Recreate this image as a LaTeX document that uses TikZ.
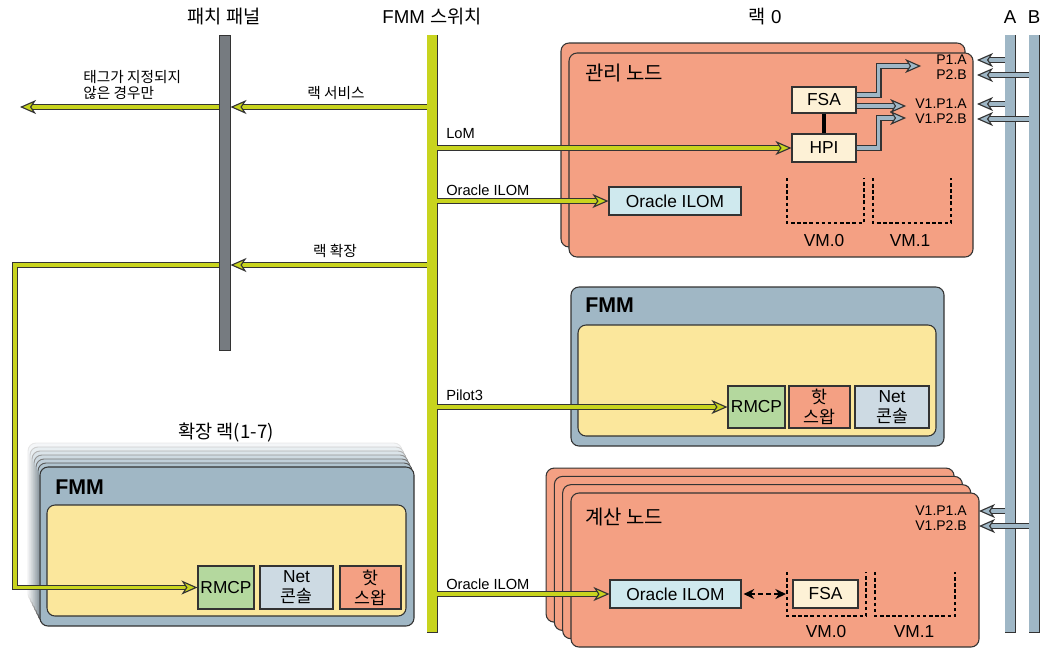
\documentclass[tikz,border=0pt]{standalone}
\usepackage{fontspec}
\setmainfont{Liberation Sans}
\newfontfamily\kr{Noto Sans CJK KR}
\usetikzlibrary{arrows.meta,calc}
\definecolor{salmon}{HTML}{F4A083}
\definecolor{fmmblue}{HTML}{A0B7C5}
\definecolor{inyel}{HTML}{FBE79C}
\definecolor{rmcpg}{HTML}{B4D89E}
\definecolor{netc}{HTML}{CDDAE3}
\definecolor{ilomc}{HTML}{CFE9EE}
\definecolor{cream}{HTML}{FDF1D6}
\definecolor{ylw}{HTML}{C8D41E}
\definecolor{ppgray}{HTML}{767B80}
\definecolor{barb}{HTML}{9FB7C6}
\definecolor{dk}{HTML}{333333}
\tikzset{
  sz/.style 2 args={minimum width=#1*0.75pt, minimum height=#2*0.75pt},
  card/.style={draw=dk, line width=0.8pt, rounded corners=6pt, fill=salmon, inner sep=0pt},
  fmmcard/.style={draw=dk, line width=0.8pt, rounded corners=6pt, fill=fmmblue, inner sep=0pt},
  inner/.style={draw=dk, line width=0.8pt, rounded corners=6pt, fill=inyel, inner sep=0pt},
  box/.style={draw=dk, line width=0.8pt, inner sep=0pt, align=center, font=\fontsize{13}{15}\selectfont},
  bus/.style={draw=dk, line width=0.7pt, inner sep=0pt},
  ylink/.style={draw=dk, line width=0.85pt, double=ylw, double distance=2.6pt},
  blink/.style={draw=dk, line width=0.85pt, double=barb, double distance=2.8pt},
  ytip/.tip={Stealth[length=12pt,width=10.5pt,inset=3.5pt,fill=ylw,line width=0.85pt]},
  btip/.tip={Stealth[length=12pt,width=10.5pt,inset=3.5pt,fill=barb,line width=0.85pt]},
  vmbox/.style={draw=black, line width=1.5pt, dash pattern=on 2.6pt off 2pt},
  lbl/.style={font=\fontsize{11}{12}\selectfont, inner sep=0pt},
  klbl/.style={font=\kr\fontsize{11}{12}\selectfont, inner sep=0pt},
  port/.style={font=\fontsize{10.5}{12}\selectfont, inner sep=0pt, anchor=east},
  title/.style={font=\fontsize{14}{16}\selectfont, inner sep=0pt},
  head/.style={font=\kr\fontsize{15}{17}\selectfont, inner sep=0pt, anchor=west},
  fmmhead/.style={font=\bfseries\fontsize{16}{18}\selectfont, inner sep=0pt, anchor=west},
  vmlbl/.style={font=\fontsize{13}{15}\selectfont, inner sep=0pt},
}
\begin{document}
\begin{tikzpicture}[x=0.75pt,y=-0.75pt]
\useasboundingbox (0,0) rectangle (1048,654);

% titles
\node[title] (tpp) at (224,17) {\kr 패치 패널};
\node[title] (tsw) at (432,17) {FMM {\kr 스위치}};
\node[title] (track) at (765,17) {{\kr 랙} 0};
\node[title] (ta) at (1010,17) {A};
\node[title] (tb) at (1034,17) {B};

% ---------- management node ----------
\node[card, sz={404}{204}] (mgmtb) at (763,145) {};
\node[card, sz={404}{204}] (mgmt) at (771,155) {};
\node[head] (mgmtt) at (585,73) {관리 노드};
\node[box, fill=cream, sz={64}{26}] (fsa) at (824,100) {FSA};
\node[box, fill=cream, sz={64}{28}] (hpi) at (824,148) {HPI};
\draw[line width=3pt] (fsa.south) -- (hpi.north);
\node[box, fill=ilomc, sz={132}{28}] (ilom1) at (675,201) {Oracle ILOM};
\coordinate (vm0a) at (787,178); \coordinate (vm0b) at (864,223);
\coordinate (vm1a) at (873,178); \coordinate (vm1b) at (951,223);
\draw[vmbox] (vm0a) -- (vm0a |- vm0b) -- (vm0b) -- (vm0b |- vm0a);
\draw[vmbox] (vm1a) -- (vm1a |- vm1b) -- (vm1b) -- (vm1b |- vm1a);
\node[vmlbl] (vm0l) at (824,241) {VM.0};
\node[vmlbl] (vm1l) at (910,241) {VM.1};
\node[port] (p1a) at (967,60) {P1.A};
\node[port] (p2b) at (967,75) {P2.B};
\node[port] (v1a) at (967,104) {V1.P1.A};
\node[port] (v2b) at (967,119) {V1.P2.B};
\draw[blink,-{btip}] ($(fsa.east)+(0,-5)$) -- ++(22,0) |- ($(p1a.west)+(-15,6)$);
\draw[blink,-{btip}] ($(fsa.east)+(0,6)$) -- ($(v1a.west)+(-9,2)$);
\draw[blink,-{btip}] (hpi.east) -- ++(22,0) |- ($(v2b.west)+(-9,-1)$);

% ---------- FMM (rack 0) ----------
\node[fmmcard, sz={373}{159}] (fmm) at (757.5,366.5) {};
\node[fmmhead] (fmmt) at (585,305) {FMM};
\node[inner, sz={358}{111}] (fmmin) at (757,380.5) {};
\node[box, fill=rmcpg, sz={57}{42}] (rmcp2) at (756.5,407) {RMCP};
\node[box, fill=salmon, sz={61}{42}] (hot2) at (819.5,407) {\kr 핫\\\kr 스왑};
\node[box, fill=netc, sz={74}{42}] (net2) at (892,407) {Net\\\kr 콘솔};

% ---------- compute nodes ----------
\foreach \i in {3,2,1}{
  \node[card, sz={408}{154}] (cn\i) at ($(775,570)+(-8.3*\i,-8.3*\i)$) {};
}
\node[card, sz={408}{154}] (cn) at (775,570) {};
\node[head] (cnt) at (585,517) {계산 노드};
\node[port] (cv1a) at (967,511) {V1.P1.A};
\node[port] (cv2b) at (967,526) {V1.P2.B};
\node[box, fill=ilomc, sz={131}{28}] (ilom2) at (675.5,594) {Oracle ILOM};
\node[box, fill=cream, sz={65}{28}] (fsa2) at (825.5,594) {FSA};
\coordinate (cvm0a) at (787,572); \coordinate (cvm0b) at (866,616);
\coordinate (cvm1a) at (875,572); \coordinate (cvm1b) at (955,616);
\draw[vmbox] (cvm0a) -- (cvm0a |- cvm0b) -- (cvm0b) -- (cvm0b |- cvm0a);
\draw[vmbox] (cvm1a) -- (cvm1a |- cvm1b) -- (cvm1b) -- (cvm1b |- cvm1a);
\coordinate (cvm0w) at (786,594);
\node[vmlbl] (cvm0l) at (826,632) {VM.0};
\node[vmlbl] (cvm1l) at (914,632) {VM.1};
\draw[line width=1.5pt, dash pattern=on 3.5pt off 2.5pt, {Stealth[length=8pt,width=7.5pt]}-{Stealth[length=8pt,width=7.5pt]}] ($(ilom2.east)+(2,0)$) -- (cvm0w);

% ---------- expansion racks ----------
\node[title] (extt) at (226,433) {\kr 확장 랙(1-7)};
\foreach \i/\c in {6/12,5/24,4/38,3/52,2/66,1/82}{
  \node[draw=dk!\c, fill=fmmblue!\c, line width=0.7pt, rounded corners=6pt, sz={374}{159}] (ext\i) at ($(227,546.5)+(-2*\i,-4*\i)$) {};
}
\node[fmmcard, sz={374}{159}] (ext) at (227,546.5) {};
\node[fmmhead] (extfmm) at (55,487) {FMM};
\node[inner, sz={359}{111}] (extin) at (226.5,560.5) {};
\node[box, fill=rmcpg, sz={56}{43}] (rmcp3) at (226,587.5) {RMCP};
\node[box, fill=netc, sz={73}{43}] (net3) at (296.5,587.5) {Net\\\kr 콘솔};
\node[box, fill=salmon, sz={61}{43}] (hot3) at (370.5,587.5) {\kr 핫\\\kr 스왑};

% ---------- FMM switch and its links ----------
\node[bus, fill=ylw, sz={10}{597}] (sw) at (432,333.5) {};
\coordinate (rsy) at (0,107);
\coordinate (rey) at (0,265);
\coordinate (untag) at (20,107);
\coordinate (extc) at (15,265);
\draw[ylink,-{ytip}] (224,107) -- (untag);
\draw[ylink,-{ytip}] (224,265) -- (extc) -- (extc |- rmcp3) -- (rmcp3.west);
\draw[ylink,-{ytip}] (sw.center |- hpi) -- (hpi.west);
\draw[ylink,-{ytip}] (sw.center |- ilom1) -- (ilom1.west);
\draw[ylink,-{ytip}] (sw.center |- rmcp2) -- (rmcp2.west);
\draw[ylink,-{ytip}] (sw.center |- ilom2) -- (ilom2.west);

% patch panel
\node[bus, fill=ppgray, sz={11}{315}] (pp) at (224.5,192.5) {};
\draw[ylink,-{ytip}] (sw.center |- rsy) -- (pp.east |- rsy);
\draw[ylink,-{ytip}] (sw.center |- rey) -- (pp.east |- rey);
\fill[ylw] ($(sw.north west)+(0.9,0.9)$) rectangle ($(sw.south east)+(-0.9,-0.9)$);

% link labels
\node[klbl] (lrs) at (336,93) {랙 서비스};
\node[klbl, anchor=west, align=left] (luntag) at (83,85) {태그가 지정되지\\않은 경우만};
\node[klbl] (lre) at (335,251) {랙 확장};
\node[lbl, anchor=west] (llom) at (446,134) {LoM};
\node[lbl, anchor=west] (lilom1) at (446,190) {Oracle ILOM};
\node[lbl, anchor=west] (lpilot) at (446,395) {Pilot3};
\node[lbl, anchor=west] (lilom2) at (446,584) {Oracle ILOM};

% ---------- A / B bars ----------
\node[bus, fill=barb, sz={10}{597}] (ba) at (1010,333.5) {};
\draw[blink,-{btip}] (ba.center |- p1a) -- ($(p1a.east)+(10,0)$);
\draw[blink,-{btip}] (ba.center |- v1a) -- ($(v1a.east)+(10,0)$);
\draw[blink,-{btip}] (ba.center |- cv1a) -- ($(cv1a.east)+(12,0)$);
\fill[barb] ($(ba.north west)+(0.9,0.9)$) rectangle ($(ba.south east)+(-0.9,-0.9)$);
\node[bus, fill=barb, sz={10}{597}] (bb) at (1034,333.5) {};
\draw[blink,-{btip}] (bb.center |- p2b) -- ($(p2b.east)+(10,0)$);
\draw[blink,-{btip}] (bb.center |- v2b) -- ($(v2b.east)+(10,0)$);
\draw[blink,-{btip}] (bb.center |- cv2b) -- ($(cv2b.east)+(12,0)$);
\fill[barb] ($(bb.north west)+(0.9,0.9)$) rectangle ($(bb.south east)+(-0.9,-0.9)$);
\end{tikzpicture}
\end{document}
